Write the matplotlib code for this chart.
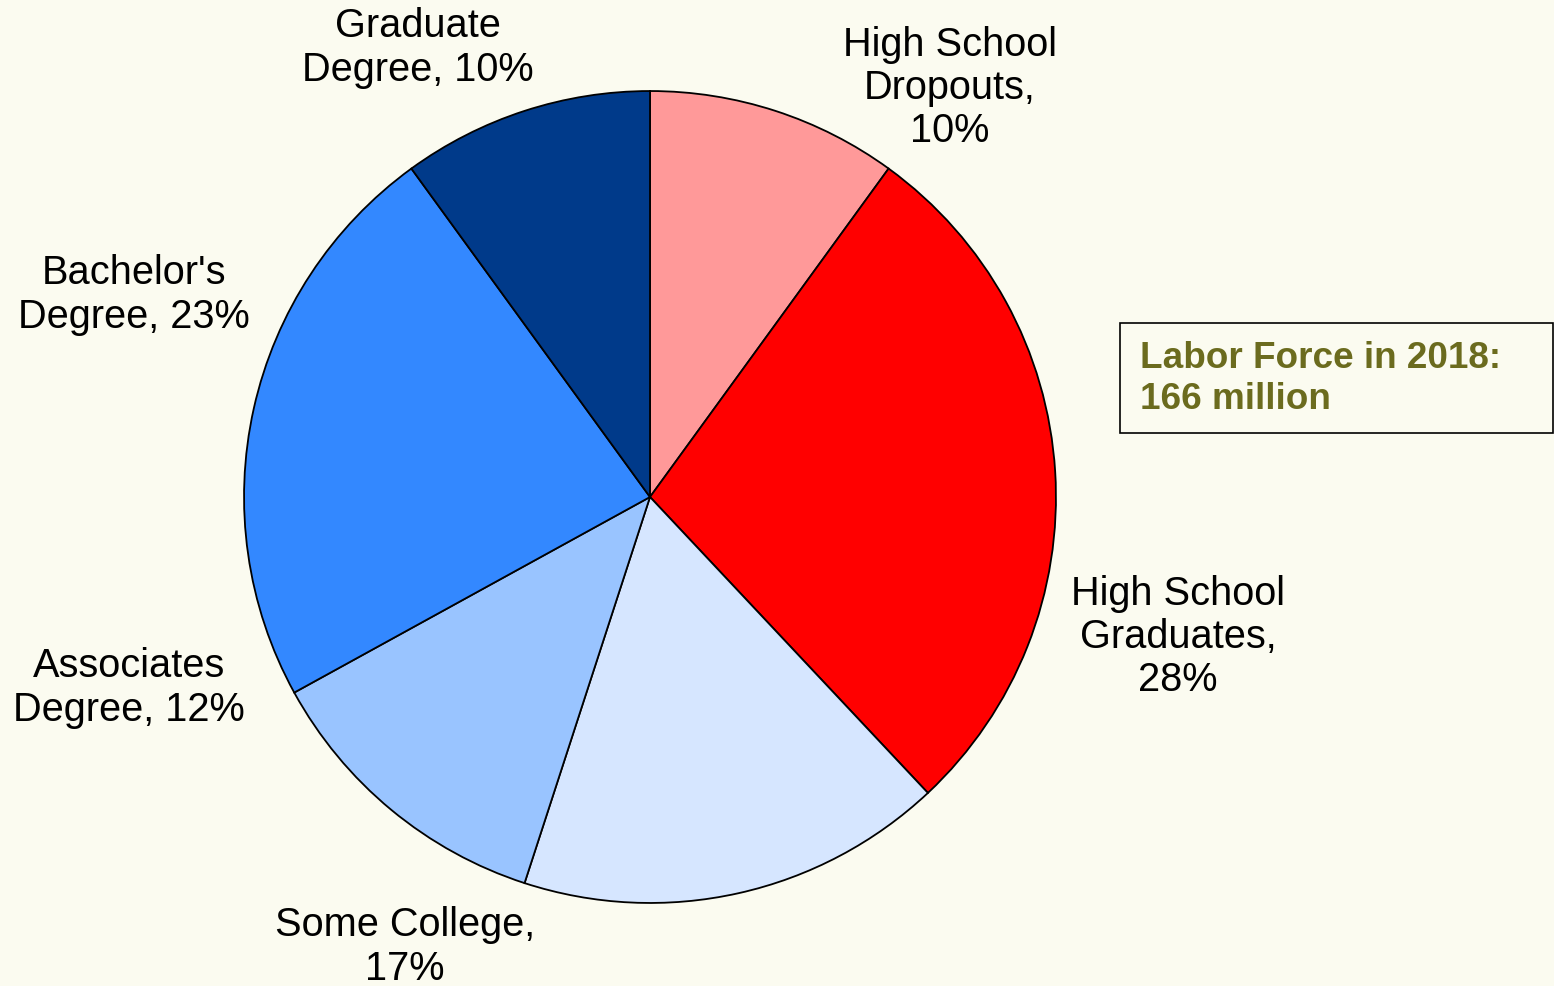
import matplotlib.pyplot as plt
from matplotlib.patches import Rectangle

plt.rcParams['font.family'] = ['Liberation Sans', 'DejaVu Sans']

groups = ["High School\nDropouts,", "High School\nGraduates,", "Some College,",
          "Associates\nDegree,", "Bachelor's\nDegree,", "Graduate\nDegree,"]
shares = [10, 28, 17, 12, 23, 10]
colors = ["#FF9999", "#FF0000", "#D6E6FF", "#99C4FF", "#3388FF", "#003A8A"]

bg = "#FBFBF0"
olive = "#6B6B1E"

fig = plt.figure(figsize=(15.54, 9.86), dpi=100, facecolor=bg)
W, H = 1554, 986

# pie sits at pixel centre (650, 497), radius 408
ax = fig.add_axes([(650 - 408) / W, (986 - 905) / H, 816 / W, 816 / H])
ax.set_facecolor(bg)
ax.pie(shares, colors=colors, startangle=90, counterclock=False,
       wedgeprops=dict(edgecolor="black", linewidth=1.3))
ax.set_xlim(-1.005, 1.005)
ax.set_ylim(-1.005, 1.005)
ax.set_aspect("equal")
ax.axis("off")

# label text, pixel positions of each block's centre
label_pos = [(950, 88), (1178, 637), (405, 947), (129, 688), (134, 295), (418, 48)]
for name, val, (px, py) in zip(groups, shares, label_pos):
    if "\n" not in name or name.startswith("High School"):
        txt = name + "\n" + str(val) + "%"
    else:
        txt = name + " " + str(val) + "%"
    fig.text(px / W, 1 - py / H, txt, ha="center", va="center",
             fontsize=28.6, linespacing=1.18, color="black")

# labor force note
fig.patches.append(Rectangle((1120 / W, 1 - 433 / H), 433 / W, 110 / H,
                             transform=fig.transFigure, facecolor=bg,
                             edgecolor="black", linewidth=1.2))
fig.text(1140 / W, 1 - 379 / H, "Labor Force in 2018:\n166 million",
         ha="left", va="center", fontsize=26.6, fontweight="bold",
         color=olive, linespacing=1.19)

fig.savefig("out.png", dpi=100, facecolor=bg)
